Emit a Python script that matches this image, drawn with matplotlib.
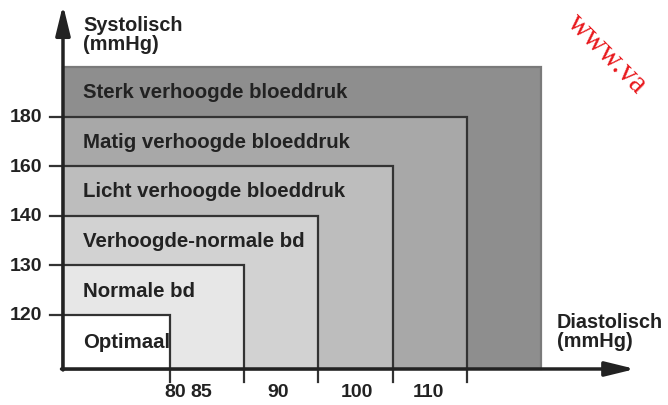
import matplotlib
matplotlib.use("Agg")
import matplotlib.pyplot as plt

# bloeddruk klassen (systolisch / diastolisch grenzen)
categories = ["Optimaal", "Normale bd", "Verhoogde-normale bd",
              "Licht verhoogde bloeddruk", "Matig verhoogde bloeddruk",
              "Sterk verhoogde bloeddruk"]
sys_bounds = [120, 130, 140, 160, 180]
dia_bounds = [80, 85, 90, 100, 110]
colors = ["#ffffff", "#e7e7e7", "#d2d2d2", "#bdbdbd", "#a8a8a8", "#8e8e8e"]

# label positions for the diastolic values (they sit a bit off in the original)
dia_label_pos = [0.07, 0.42, 1.46, 2.52, 3.48]

plt.rcParams["font.family"] = ["Liberation Sans", "DejaVu Sans"]
fig = plt.figure(figsize=(6.68, 4.06), dpi=100)
ax = fig.add_axes([0, 0, 1, 1])
ax.set_xlim(-2.291, 6.712)
ax.set_ylim(-1.815, 6.371)
ax.axis("off")

x0, y0 = -1.442, -1.089   # origin of the chart
ink = "#222222"

# boxes from largest to smallest, index i -> right edge i, top edge i
n = len(categories)
for i in reversed(range(n)):
    edge = "#7a7a7a" if i == n - 1 else "#333333"
    ax.bar(x0, i - y0, width=i - x0, bottom=y0, align="edge",
           color=colors[i], edgecolor=edge, linewidth=1.6, zorder=2)
    ymid = (i + (i - 1 if i > 0 else y0)) / 2
    ax.text(x0 + 0.27, ymid, categories[i], fontsize=14.7, fontweight="bold",
            color=ink, va="center", ha="left", zorder=5)

# tick stubs
for i, v in enumerate(sys_bounds):
    ax.plot([x0 - 0.18, x0], [i, i], color="#333333", lw=1.6, zorder=3)
    ax.text(-1.72, i, str(v), fontsize=14, fontweight="bold", color=ink,
            ha="right", va="center")
for i, v in enumerate(dia_bounds):
    ax.plot([i, i], [y0, y0 - 0.27], color="#333333", lw=1.6, zorder=3)
    ax.text(dia_label_pos[i], y0 - 0.45, str(v), fontsize=14, fontweight="bold",
            color=ink, ha="center", va="center")

# axes arrows
arrow = dict(arrowstyle="-|>,head_length=0.9,head_width=0.22", lw=2.5,
             color=ink, mutation_scale=20, shrinkA=0, shrinkB=0)
ax.annotate("", xy=(x0, 6.25), xytext=(x0, y0 - 0.02), arrowprops=arrow, zorder=6)
ax.annotate("", xy=(6.27, y0), xytext=(x0 - 0.02, y0), arrowprops=arrow, zorder=6)

ax.text(83 / 668, 1 - 16 / 406, "Systolisch\n(mmHg)", transform=ax.transAxes,
        fontsize=14.3, fontweight="bold", color=ink, ha="left", va="top",
        linespacing=1.0)
ax.text(557 / 668, 1 - 313 / 406, "Diastolisch\n(mmHg)", transform=ax.transAxes,
        fontsize=14.3, fontweight="bold", color=ink, ha="left", va="top",
        linespacing=1.0)

# watermark
ax.text(566 / 668, 1 - 24 / 406, "www.va", transform=ax.transAxes,
        fontsize=22, color="#e8181c", family="Liberation Serif",
        rotation=-45, rotation_mode="anchor", ha="left", va="baseline")

fig.savefig("out.png", dpi=100)
